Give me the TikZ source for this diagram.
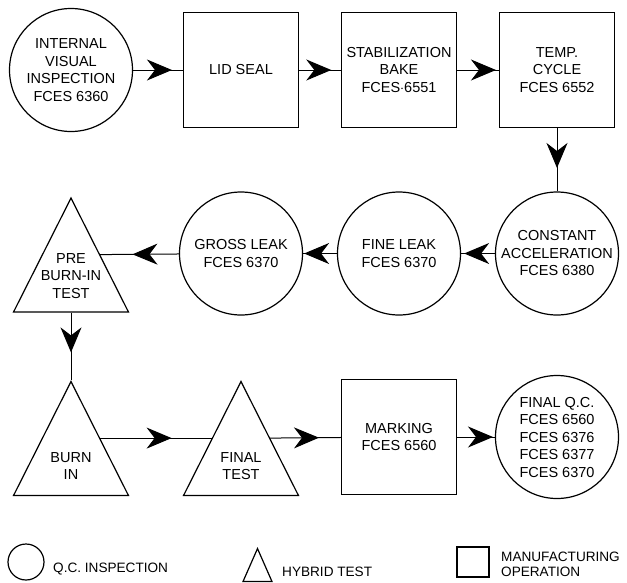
\documentclass[tikz,border=0pt]{standalone}
\usepackage{fontspec}
\setmainfont{Liberation Sans}
\usetikzlibrary{arrows.meta,positioning,calc,shapes.geometric,decorations.markings}

\tikzset{
  lbl/.style={font=\fontsize{14.5}{17.5}\selectfont,align=center},
  qc/.style={lbl,draw,circle,line width=1.2pt,minimum size=123pt,inner sep=0pt},
  mfg/.style={lbl,draw,rectangle,line width=1.2pt,minimum size=115pt,inner sep=0pt},
  hyb/.style={draw,isosceles triangle,isosceles triangle stretches,shape border rotate=90,
    line width=1.2pt,minimum width=115pt,minimum height=114pt,inner sep=0pt},
  flow/.style={line width=1pt,postaction={decorate},
    decoration={markings,mark=at position #1 with {\arrow{Stealth[length=25pt,width=21pt,inset=8pt]}}}},
  flow/.default=0.75,
  keytext/.style={font=\fontsize{13.6}{15}\selectfont,align=left,inner sep=0pt}
}

\begin{document}
\begin{tikzpicture}[x=1pt,y=1pt,node distance=183.5pt and 158pt,on grid]
\useasboundingbox (0,0) rectangle (627,-582);
% first row
\node[qc] (ivi) at (71,-70) {INTERNAL\\VISUAL\\INSPECTION\\FCES 6360};
\node[mfg,right=170pt of ivi] (lid) {LID SEAL};
\node[mfg,right=of lid] (stab) {STABILIZATION\\BAKE\\FCES$\cdot$6551};
\node[mfg,right=of stab] (temp) {TEMP.\\CYCLE\\FCES 6552};
% second row, right to left
\node[qc,below=of temp] (const) {CONSTANT\\ACCELERATION\\FCES 6380};
\node[qc,left=of const] (fine) {FINE LEAK\\FCES 6370};
\node[qc,left=of fine] (gross) {GROSS LEAK\\FCES 6370};
\node[hyb,below=126.5pt of ivi,anchor=apex,label={[lbl,yshift=1pt]center:PRE\\BURN-IN\\TEST}] (pre) {};
% third row
\node[hyb,below=310pt of ivi,anchor=apex,label={[lbl,yshift=-6pt]center:BURN\\IN}] (burn) {};
\node[hyb,below=310pt of lid,anchor=apex,label={[lbl,yshift=-6pt]center:FINAL\\TEST}] (final) {};
\node[mfg,below=of fine] (mark) {MARKING\\FCES 6560};
\node[qc,right=of mark] (fqc) {FINAL Q.C.\\FCES 6560\\FCES 6376\\FCES 6377\\FCES 6370};

\draw[flow=0.78] (ivi) -- (lid);
\draw[flow=0.77] (lid) -- (stab);
\draw[flow=0.93] (stab) -- (temp);
\draw[flow=0.63] (temp) -- (const);
\draw[flow=0.91] (const) -- (fine);
\draw[flow=0.97] (fine) -- (gross);
\draw[flow=0.59] (gross) -- (pre.right side);
\draw[flow=0.59] (pre) -- (burn);
\draw[flow=0.64] (burn.right side) -- (final.left side);
\draw[flow=0.69] (final.right side) -- (mark);
\draw[flow=0.95] (mark) -- (fqc);

% key
\node[draw,circle,line width=1.2pt,minimum size=36pt,inner sep=0pt] (keyqc) at (26,-562) {};
\node[draw,isosceles triangle,isosceles triangle stretches,shape border rotate=90,line width=1.2pt,
  minimum width=29pt,minimum height=33pt,inner sep=0pt,anchor=apex] (keyhyb) at (257.5,-547) {};
\node[draw,rectangle,line width=1.2pt,minimum width=32pt,minimum height=30pt,inner sep=0pt,
  right=216pt of keyqc,xshift=231pt] (keymfg) {};
\node[keytext,right=27pt of keyqc,anchor=west,yshift=-7pt] (keyqct) {Q.C. INSPECTION};
\node[keytext,right=24.5pt of keyhyb,anchor=west] (keyhybt) {HYBRID TEST};
\node[keytext,right=28pt of keymfg,anchor=west,yshift=-2.5pt] (keymfgt) {MANUFACTURING\\OPERATION};
\end{tikzpicture}
\end{document}
